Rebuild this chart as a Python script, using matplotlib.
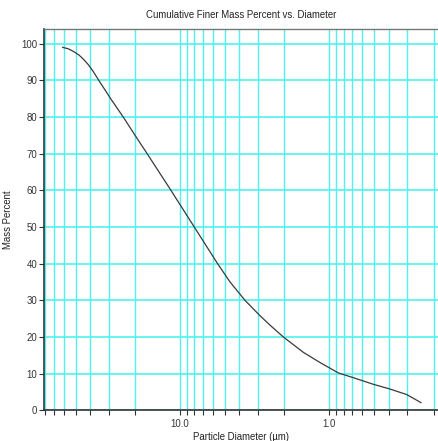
import matplotlib
matplotlib.use('Agg')
import matplotlib.pyplot as plt
from matplotlib.ticker import FixedLocator, FixedFormatter, NullFormatter

plt.rcParams['font.family'] = ['Liberation Sans', 'DejaVu Sans']

# --- data: diameter (um) vs cumulative finer mass percent ---
diameter = [61.1, 56.0, 51.8, 47.5, 44.4, 41.0, 38.1, 35.0, 28.7, 24.0,
            20.0, 16.6, 11.5, 8.2, 5.6, 4.62, 3.67, 2.91, 2.49, 2.03,
            1.49, 1.15, 0.99, 0.87, 0.69, 0.507, 0.392, 0.303, 0.243]
mass_pct = [99.0, 98.6, 97.9, 96.9, 95.8, 94.2, 92.4, 90.0, 84.6, 80.0,
            75.0, 70.0, 60.0, 50.6, 40.0, 35.0, 30.0, 25.8, 23.2, 20.0,
            15.8, 13.0, 11.5, 10.2, 8.9, 7.1, 5.8, 4.3, 2.1]

major_ticks = [10.0, 1.0]
major_labels = ['10.0', '1.0']
minor_ticks = [80, 70, 60, 50, 40, 30, 20, 9, 8, 7, 6, 5, 4, 3, 2,
               0.9, 0.8, 0.7, 0.6, 0.5, 0.4, 0.3, 0.2]
y_ticks = list(range(0, 101, 10))

grid_color = '#4ff2ee'

fig = plt.figure(figsize=(4.39, 4.41), dpi=100)
ax = fig.add_axes([0.1002, 0.0696, 0.8998, 0.8646])

ax.set_xscale('log')
ax.set_xlim(81.5, 0.184)
ax.set_ylim(0, 104)

# grid lines
for x in major_ticks + minor_ticks:
    ax.axvline(x, color=grid_color, lw=1.0, zorder=1)
for y in y_ticks:
    ax.axhline(y, color=grid_color, lw=1.2, zorder=1)

ax.plot(diameter, mass_pct, color='#3a3a3a', lw=0.9, zorder=3)

ax.xaxis.set_major_locator(FixedLocator(major_ticks))
ax.xaxis.set_major_formatter(FixedFormatter(major_labels))
ax.xaxis.set_minor_locator(FixedLocator(minor_ticks))
ax.xaxis.set_minor_formatter(NullFormatter())
ax.set_yticks(y_ticks)

ax.tick_params(axis='both', which='both', direction='out', length=3.5,
               width=0.8, color='#333333', labelsize=6.9, labelcolor='#333333', pad=1.5)
ax.tick_params(axis='x', which='major', pad=3)

for side in ['left', 'bottom']:
    ax.spines[side].set_color('#333333')
    ax.spines[side].set_linewidth(1.2)
ax.spines['top'].set_color('#777777')
ax.spines['top'].set_linewidth(1.0)
ax.spines['right'].set_visible(False)

ax.set_title('Cumulative Finer Mass Percent vs. Diameter', fontsize=6.9, color='#222222', pad=8)
ax.set_xlabel('Particle Diameter (µm)', fontsize=6.9, color='#222222')
ax.set_ylabel('Mass Percent', fontsize=6.9, color='#222222')
ax.xaxis.set_label_coords(0.5, -0.057)
ax.yaxis.set_label_coords(-0.078, 0.5)

fig.savefig('out.png', dpi=100)
